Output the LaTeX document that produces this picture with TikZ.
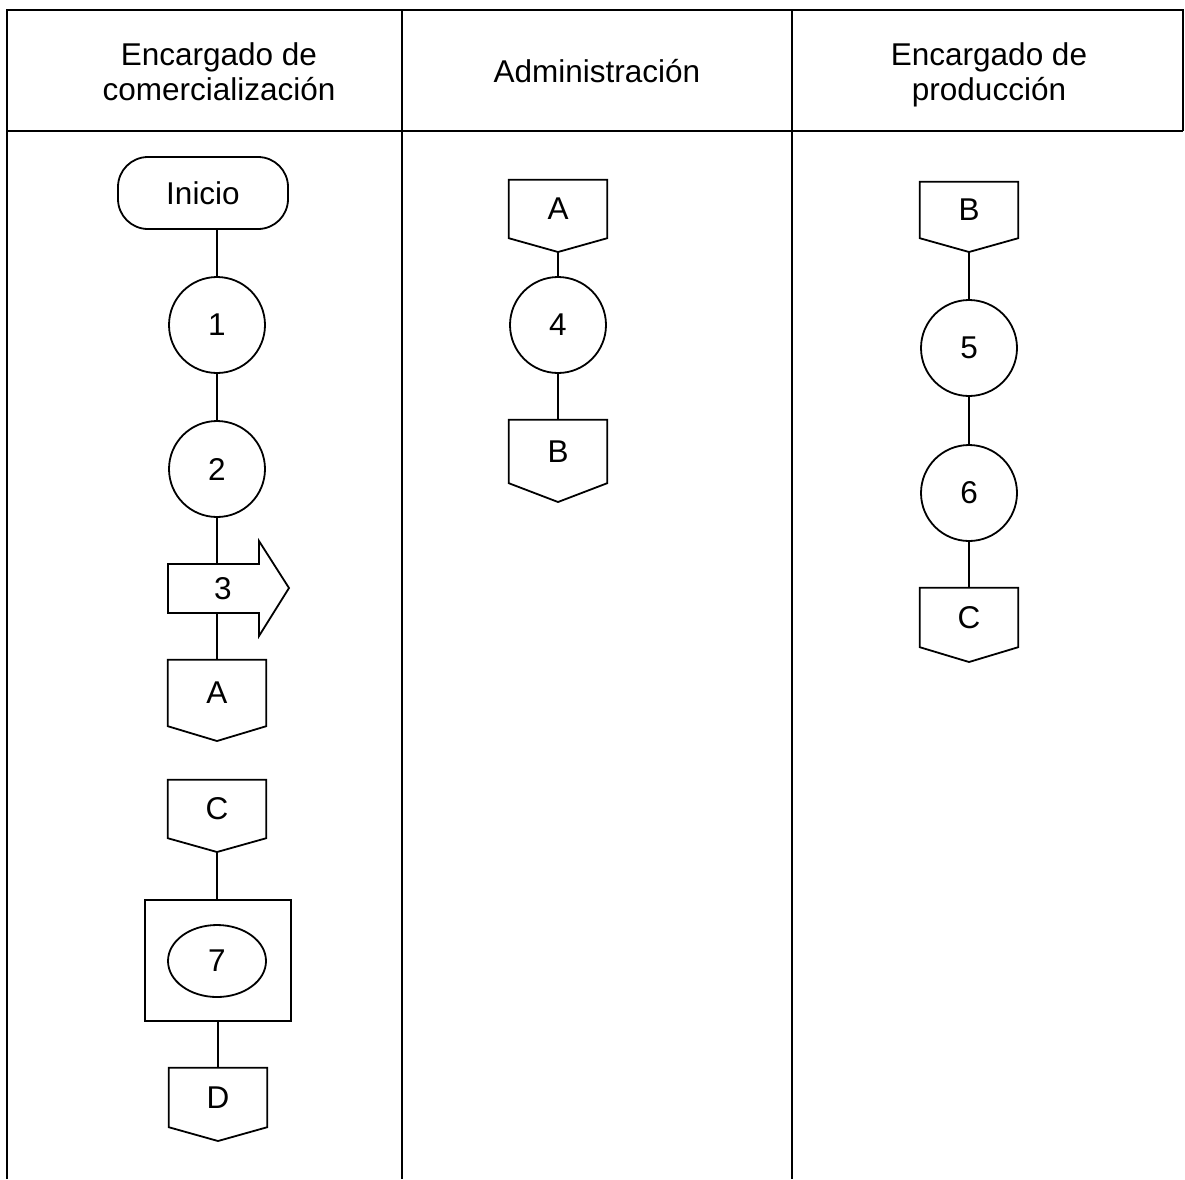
\documentclass[tikz,border=0pt]{standalone}
\usepackage{fontspec}
\setmainfont{Liberation Sans}
\usetikzlibrary{calc,shapes.geometric}
\tikzset{
  shapeline/.style={line width=1.8pt, black},
  conn/.style={line width=1.8pt, black},
  lbl/.style={font=\fontsize{31.5}{35}\selectfont, inner sep=0pt},
  circ/.style={shapeline, draw, circle, minimum size=96pt, inner sep=0pt, font=\fontsize{31.5}{35}\selectfont},
  opbox/.style={inner sep=0pt, minimum width=98pt, font=\fontsize{31.5}{35}\selectfont},
  termbox/.style={shapeline, draw, rectangle, rounded corners=30pt, minimum width=170pt, minimum height=72pt, inner sep=0pt, font=\fontsize{31.5}{35}\selectfont},
  hdr/.style={font=\fontsize{31.5}{35}\selectfont, align=center, inner sep=0pt},
  gridline/.style={line width=1.4pt, black}
}
% #1 name, #2 x, #3 top y, #4 side bottom y, #5 tip y, #6 text
\newcommand{\offpg}[6]{%
  \node[opbox, minimum height={#4-#3}] (#1) at (#2,{(#3+#4)/2}) {#6};
  \draw[shapeline, line join=miter] (#1.north west) -- (#1.north east) -- (#1.south east) -- (#2,#5) coordinate (#1-tip) -- (#1.south west) -- cycle;
}
\begin{document}
\begin{tikzpicture}[x=1pt,y=-1pt]
\useasboundingbox (0,0) rectangle (1185,1179);
% table
\draw[gridline] (7,1179) -- (7,10) -- (1183,10) -- (1183,131);
\draw[gridline] (7,131) -- (1183,131);
\draw[gridline] (402,10) -- (402,1179);
\draw[gridline] (792,10) -- (792,1179);
% headers
\node[hdr, anchor=base] (h1) at (219,100) {Encargado de\\comercialización};
\node[hdr, anchor=base] (h2) at (597,82) {Administración};
\node[hdr, anchor=base] (h3) at (989,100) {Encargado de\\producción};

% column 1
\node[termbox] (ini) at (203,193) {Inicio};
\node[circ] (n1) at (217,325) {1};
\node[circ] (n2) at (217,469) {2};
\draw[shapeline, line join=miter] (168,564) -- (259,564) -- (259,541) -- (289,588) -- (259,636) -- (259,613) -- (168,613) -- cycle;
\coordinate (n3top) at (217,564);
\coordinate (n3bot) at (217,613);
\node[lbl] (n3) at (223,589) {3};
\offpg{a1}{217}{660}{726}{741}{A}
\offpg{c1}{217}{780}{838}{852}{C}
\node[shapeline, draw, rectangle, minimum width=146pt, minimum height=121pt, inner sep=0pt] (box7) at (218,960.5) {};
\node[shapeline, draw, ellipse, minimum width=98pt, minimum height=72pt, inner sep=0pt, font=\fontsize{31.5}{35}\selectfont] (n7) at (217,961) {7};
\offpg{d1}{218}{1068}{1127}{1141}{D}

\draw[conn] (n1.north) -- (n1.north |- ini.south);
\draw[conn] (n1) -- (n2);
\draw[conn] (n2.south) -- (n3top);
\draw[conn] (n3bot) -- (n3bot |- a1.north);
\draw[conn] (c1-tip) -- (c1-tip |- box7.north);
\draw[conn] (d1.north) -- (d1.north |- box7.south);

% column 2
\offpg{a2}{558}{180}{238}{252}{A}
\node[circ] (n4) at (558,325) {4};
\offpg{b2}{558}{420}{483}{502}{B}
\draw[conn] (a2-tip) -- (n4.north);
\draw[conn] (n4.south) -- (b2.north);

% column 3
\offpg{b3}{969}{182}{238}{252}{B}
\node[circ] (n5) at (969,348) {5};
\node[circ] (n6) at (969,493) {6};
\offpg{c3}{969}{588}{647}{662}{C}
\draw[conn] (b3-tip) -- (n5.north);
\draw[conn] (n5) -- (n6);
\draw[conn] (n6.south) -- (c3.north);
\end{tikzpicture}
\end{document}
